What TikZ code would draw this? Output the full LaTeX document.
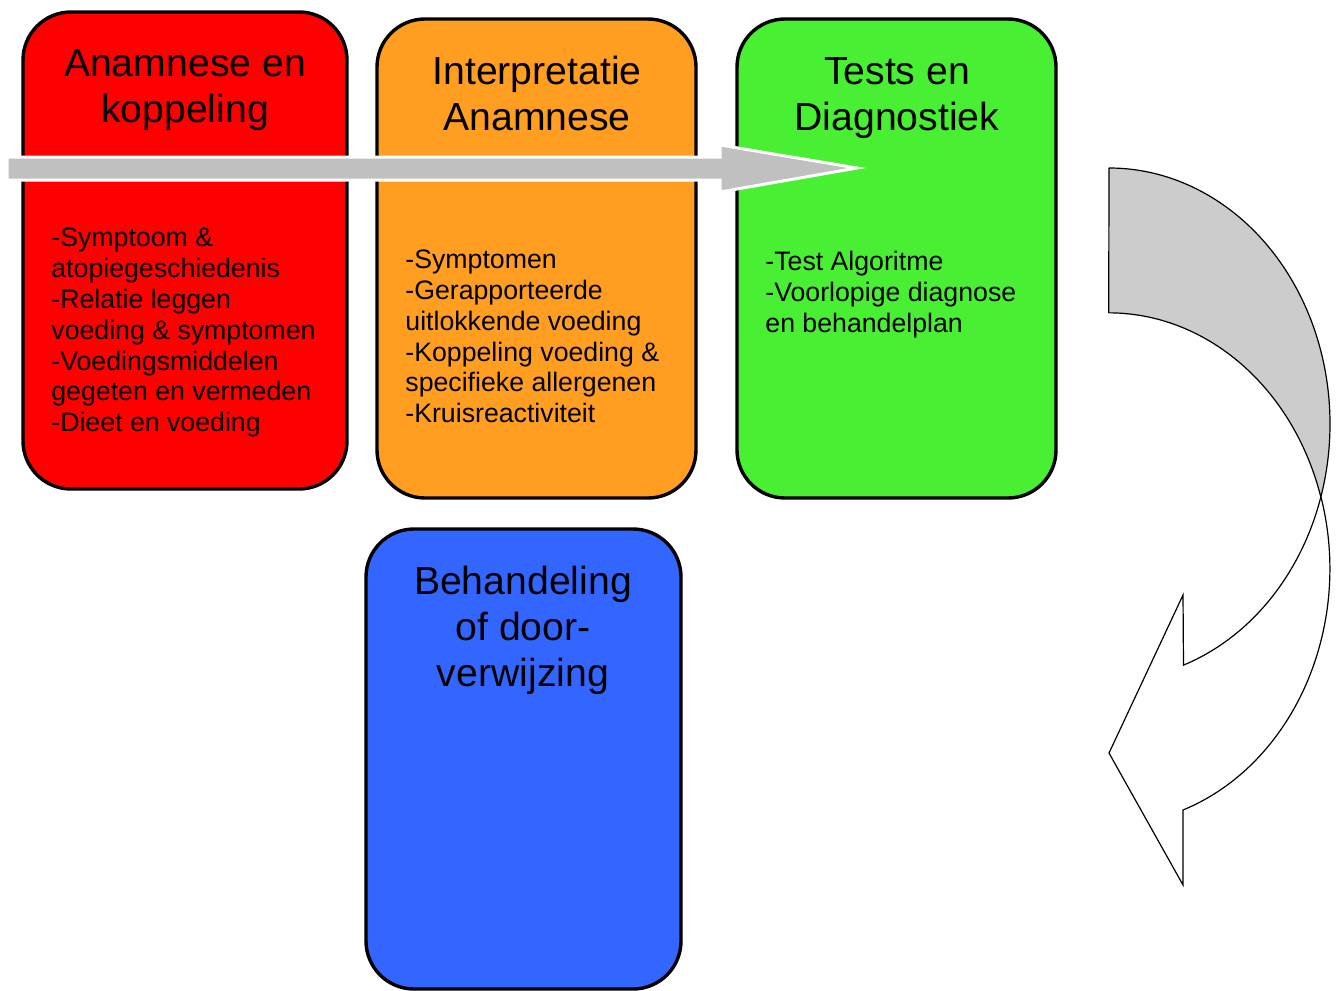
\documentclass[tikz,border=0pt]{standalone}
\usepackage{fontspec}
\setmainfont{Liberation Sans}
\definecolor{boxred}{RGB}{255,0,0}
\definecolor{boxorange}{RGB}{255,158,33}
\definecolor{boxgreen}{RGB}{72,239,50}
\definecolor{boxblue}{RGB}{51,102,255}
\definecolor{arrowgray}{RGB}{192,192,192}
\definecolor{curvegray}{RGB}{204,204,204}
\tikzset{
  stagebox/.style={draw=black, line width=1.7pt, rounded corners=24pt, inner sep=0pt},
  titletext/.style={font=\fontsize{19.6pt}{23pt}\selectfont, align=center, anchor=base, inner sep=0pt},
  bodytext/.style={font=\fontsize{13.35pt}{15.4pt}\selectfont, align=left, anchor=base west, inner sep=0pt},
  flatarrow/.style={fill=arrowgray, draw=white, line width=1.5pt},
  curvedback/.style={fill=curvegray, draw=black, line width=0.6pt, line join=round},
  curvedfront/.style={fill=white, draw=black, line width=0.6pt, line join=miter},
}
\begin{document}
\begin{tikzpicture}[x=0.5pt, y=-0.5pt]
\useasboundingbox (0,0) rectangle (1337,990);

% stage boxes
\node[stagebox, fill=boxred, minimum width=162pt, minimum height=238.5pt] (red) at (185,250.5) {};
\node[stagebox, fill=boxorange, minimum width=159.5pt, minimum height=239.5pt] (orange) at (536.5,258.5) {};
\node[stagebox, fill=boxgreen, minimum width=159.5pt, minimum height=239.5pt] (green) at (896.5,258.5) {};
\node[stagebox, fill=boxblue, minimum width=157.5pt, minimum height=230pt] (blue) at (523.5,759) {};

% straight arrow
\coordinate (sa0) at (7,157);
\coordinate (satip) at (857,168);
\draw[flatarrow] (sa0) -- (720,157) -- (720,145) -- (satip) -- (720,192) -- (720,180) -- (7,180) -- cycle;

% curved arrow (back face)
\coordinate (cbtop) at (1109,168);
\coordinate (cross) at (1320.8,497.1);
\draw[curvedback] (cbtop) arc[start angle=-90, end angle=16.57, x radius=221, y radius=256]
  arc[start angle=-16.3, end angle=-90, x radius=221, y radius=256] -- cycle;
% curved arrow (front face)
\coordinate (ctip) at (1109,753);
\draw[curvedfront] (cross) arc[start angle=16.57, end angle=70.3, x radius=221, y radius=256]
  -- (1183,595) -- (ctip) -- (1183,885) -- (1183,810)
  arc[start angle=70.4, end angle=-16.3, x radius=221, y radius=256] -- cycle;

% titles (anchor = baseline of last line)
\node[titletext] (redtitle) at (185,122) {Anamnese en\\koppeling};
\node[titletext] (orangetitle) at (537,130) {Interpretatie\\Anamnese};
\node[titletext] (greentitle) at (897,131) {Tests en\\Diagnostiek};
\node[titletext] (bluetitle) at (523,686) {Behandeling\\of door-\\verwijzing};

% body texts (anchor = baseline of last line)
\node[bodytext] (redbody) at (51,431.7) {-Symptoom \&\\atopiegeschiedenis\\-Relatie leggen\\voeding \& symptomen\\-Voedingsmiddelen\\gegeten en vermeden\\-Dieet en voeding};
\node[bodytext] (orangebody) at (405,422.7) {-Symptomen\\-Gerapporteerde\\uitlokkende voeding\\-Koppeling voeding \&\\specifieke allergenen\\-Kruisreactiviteit};
\node[bodytext] (greenbody) at (765,332.1) {-Test Algoritme\\-Voorlopige diagnose\\en behandelplan};
\end{tikzpicture}
\end{document}
